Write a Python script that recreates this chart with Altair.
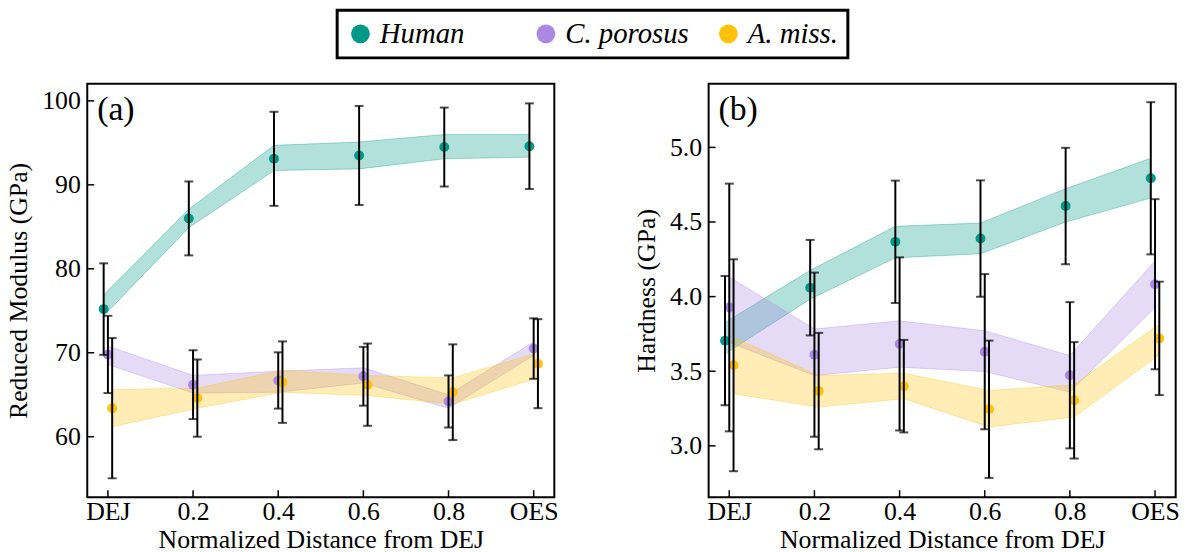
import altair as alt
import pandas as pd

positions = [0.0, 0.2, 0.4, 0.6, 0.8, 1.0]
tick_labels = ["DEJ", "0.2", "0.4", "0.6", "0.8", "OES"]
species = ["Human", "C. porosus", "A. miss."]
offsets = [-0.01, 0.0, 0.01]
colors = ["#009988", "#AA88E4", "#FFC20A"]

# Reduced modulus (GPa)
mod_human_mean = [75.2, 86.0, 93.1, 93.5, 94.5, 94.6]
mod_human_sd = [5.45, 4.4, 5.6, 5.9, 4.7, 5.1]
mod_human_band_lo = [74.4, 84.9, 91.7, 91.9, 93.1, 93.3]
mod_human_band_hi = [76.9, 87.1, 94.7, 95.1, 96.0, 96.0]

mod_poro_mean = [69.8, 66.2, 66.7, 67.2, 64.2, 70.5]
mod_poro_sd = [4.6, 4.1, 3.35, 3.5, 3.1, 3.6]
mod_poro_band_lo = [68.6, 65.2, 65.3, 66.4, 63.4, 69.7]
mod_poro_band_hi = [70.8, 67.3, 67.8, 68.2, 65.0, 71.3]

mod_amiss_mean = [63.4, 64.6, 66.5, 66.2, 65.3, 68.7]
mod_amiss_sd = [8.35, 4.6, 4.85, 4.9, 5.7, 5.3]
mod_amiss_band_lo = [61.2, 63.4, 65.3, 64.9, 63.9, 67.0]
mod_amiss_band_hi = [65.6, 65.8, 67.9, 67.3, 67.0, 70.0]

# Hardness (GPa)
hard_human_mean = [3.705, 4.06, 4.367, 4.389, 4.607, 4.793]
hard_human_sd = [0.433, 0.32, 0.41, 0.39, 0.39, 0.51]
hard_human_band_lo = [3.616, 3.983, 4.26, 4.287, 4.50, 4.66]
hard_human_band_hi = [3.827, 4.176, 4.471, 4.493, 4.723, 4.927]

hard_poro_mean = [3.927, 3.611, 3.683, 3.631, 3.473, 4.083]
hard_poro_sd = [0.83, 0.55, 0.58, 0.52, 0.49, 0.57]
hard_poro_band_lo = [3.693, 3.471, 3.527, 3.498, 3.36, 3.927]
hard_poro_band_hi = [4.131, 3.783, 3.838, 3.771, 3.605, 4.238]

hard_amiss_mean = [3.54, 3.367, 3.40, 3.245, 3.305, 3.72]
hard_amiss_sd = [0.71, 0.39, 0.31, 0.46, 0.39, 0.38]
hard_amiss_band_lo = [3.349, 3.26, 3.316, 3.127, 3.193, 3.611]
hard_amiss_band_hi = [3.727, 3.471, 3.487, 3.371, 3.409, 3.816]

mod_ticks = [60, 70, 80, 90, 100]
hard_ticks = [3.0, 3.5, 4.0, 4.5, 5.0]

FONT = "Liberation Serif"
FS = 26
W, H = 471, 417
X_DOMAIN = [-0.0485, 1.0485]
BLANK = "\u2800"


def build_df(means, sds, los, his):
    rows = []
    for sp, off, m, s, lo, hi in zip(species, offsets, means, sds, los, his):
        for i, p in enumerate(positions):
            rows.append({
                "species": sp, "x": p + off, "mean": m[i],
                "lo": m[i] - s[i], "hi": m[i] + s[i],
                "blo": lo[i], "bhi": hi[i],
            })
    return pd.DataFrame(rows)


label_expr = ("datum.value < 0.1 ? 'DEJ' : datum.value > 0.9 ? 'OES' : "
              "format(datum.value, '.1f')")

color_scale = alt.Scale(domain=species, range=colors)
legend = alt.Legend(
    title=None, orient="none", legendX=252, legendY=-74, direction="horizontal",
    columns=3, gridAlign="each", columnPadding=25, symbolType="circle",
    symbolSize=360, symbolStrokeWidth=0, symbolOpacity=1, labelFont=FONT,
    labelFontSize=29, labelFontStyle="italic", labelColor="black", labelLimit=400,
    labelExpr="datum.label == 'Human' ? 'Human" + BLANK * 2 + "' : datum.label",
    strokeColor="black", padding=9, labelOffset=5, fillColor="white")


def panel(df, ticks, ydomain, ytitle, yfmt, tag):
    xs = alt.Scale(domain=X_DOMAIN, nice=False, zero=False)
    ys = alt.Scale(domain=ydomain, nice=False, zero=False)
    xax = alt.Axis(values=positions, labelExpr=label_expr, title="Normalized Distance from DEJ",
                   ticks=False, domain=False, grid=False, labelPadding=2, titlePadding=2,
                   labelFont=FONT, titleFont=FONT, labelFontSize=FS, titleFontSize=FS,
                   titleFontWeight="normal", labelColor="black", titleColor="black")
    yax = alt.Axis(values=ticks, format=yfmt, title=ytitle, ticks=False, domain=False, grid=False,
                   labelPadding=7, titlePadding=10,
                   labelFont=FONT, titleFont=FONT, labelFontSize=FS, titleFontSize=FS,
                   titleFontWeight="normal", labelColor="black", titleColor="black")
    base = alt.Chart(df)
    band = base.mark_area(fillOpacity=0.3, strokeOpacity=0.35, strokeWidth=1).encode(
        x=alt.X("x:Q", scale=xs, axis=xax),
        y=alt.Y("blo:Q", scale=ys, axis=yax),
        y2="bhi:Q",
        color=alt.Color("species:N", scale=color_scale, legend=legend),
        stroke=alt.Stroke("species:N", scale=color_scale, legend=None),
        detail="species:N",
    )
    pts = base.mark_circle(size=100, opacity=1).encode(
        x=alt.X("x:Q", scale=xs),
        y=alt.Y("mean:Q", scale=ys),
        color=alt.Color("species:N", scale=color_scale, legend=legend),
    )
    bars = base.mark_rule(color="black", strokeWidth=2).encode(
        x=alt.X("x:Q", scale=xs), y=alt.Y("lo:Q", scale=ys), y2="hi:Q")
    caps_lo = base.mark_tick(color="black", orient="horizontal", size=9, thickness=2).encode(
        x=alt.X("x:Q", scale=xs), y=alt.Y("lo:Q", scale=ys))
    caps_hi = base.mark_tick(color="black", orient="horizontal", size=9, thickness=2).encode(
        x=alt.X("x:Q", scale=xs), y=alt.Y("hi:Q", scale=ys))
    ytk = alt.Chart(pd.DataFrame({"v": ticks})).mark_rule(color="black", strokeWidth=1.5).encode(
        y=alt.Y("v:Q", scale=ys), x=alt.value(0), x2=alt.value(7))
    xtk = alt.Chart(pd.DataFrame({"t": positions})).mark_rule(color="black", strokeWidth=1.5).encode(
        x=alt.X("t:Q", scale=xs), y=alt.value(H), y2=alt.value(H - 7))
    label = alt.Chart(pd.DataFrame({"s": [tag]})).mark_text(
        align="left", baseline="top", font=FONT, fontSize=34, color="black").encode(
        text="s:N", x=alt.value(10), y=alt.value(10))
    return alt.layer(band, pts, bars, caps_lo, caps_hi, ytk, xtk, label).properties(width=W, height=H)


left = panel(build_df([mod_human_mean, mod_poro_mean, mod_amiss_mean],
                      [mod_human_sd, mod_poro_sd, mod_amiss_sd],
                      [mod_human_band_lo, mod_poro_band_lo, mod_amiss_band_lo],
                      [mod_human_band_hi, mod_poro_band_hi, mod_amiss_band_hi]),
             mod_ticks, [52.8, 102.05], "Reduced Modulus (GPa)", "d", "(a)")
right = panel(build_df([hard_human_mean, hard_poro_mean, hard_amiss_mean],
                       [hard_human_sd, hard_poro_sd, hard_amiss_sd],
                       [hard_human_band_lo, hard_poro_band_lo, hard_amiss_band_lo],
                       [hard_human_band_hi, hard_poro_band_hi, hard_amiss_band_hi]),
              hard_ticks, [2.656, 5.427], "Hardness (GPa)", ".1f", "(b)")

chart = alt.hconcat(left, right, spacing=155.6, bounds="flush").properties(
    padding={"left": 5, "top": 6, "right": 5, "bottom": 5}
).configure_view(stroke="black", strokeWidth=2).configure_legend(strokeWidth=3)

chart.save("out.html", embed_options={"renderer": "svg", "actions": False})
